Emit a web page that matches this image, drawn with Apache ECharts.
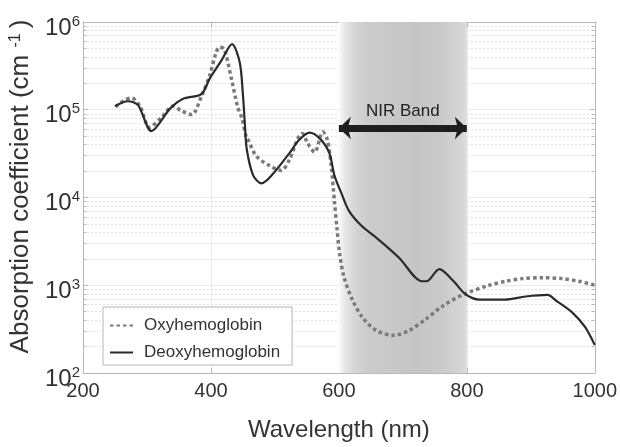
<!DOCTYPE html>
<html>
<head>
<meta charset="utf-8">
<script src="https://cdn.jsdelivr.net/npm/echarts@6/dist/echarts.min.js"></script>
<style>
  html, body { margin: 0; padding: 0; background: #fff; }
  #chart { width: 620px; height: 447px; }
</style>
</head>
<body>
<div id="chart"></div>
<script>
// 吸收系数数据 (cm^-1)
const oxyWavelength = [251, 265, 276, 289, 304, 323, 341, 354, 370, 385, 398, 408, 414, 421, 432, 442, 448, 455, 458, 471, 492, 510, 523, 536, 543, 551, 562, 575, 582, 588, 593, 597, 601, 608, 621, 637, 658, 686, 710, 736, 762, 793, 835, 861, 887, 918, 949, 975, 1000]
const oxyValues = [108000, 129000, 136000, 110000, 63000, 82000, 110000, 97000, 88000, 142000, 245000, 447000, 520000, 486000, 226000, 106000, 82000, 49300, 45400, 29600, 23000, 20300, 27300, 47200, 53700, 41600, 32900, 56000, 45400, 23000, 9060, 4470, 2340, 1240, 686, 429, 306, 269, 306, 412, 578, 776, 1000, 1110, 1190, 1220, 1190, 1110, 1000]

const deoxyWavelength = [250, 270, 286, 307, 336, 356, 385, 398, 416, 433, 445, 450, 453, 456, 466, 479, 497, 523, 538, 554, 570, 585, 593, 605, 616, 635, 663, 694, 730, 737, 757, 778, 796, 809, 820, 860, 892, 926, 941, 965, 985, 1000]
const deoxyValues = [110000, 125000, 113000, 57000, 103000, 133000, 151000, 226000, 360000, 560000, 347000, 148000, 70000, 35500, 17900, 14500, 18600, 32300, 45400, 55000, 47200, 32300, 17900, 10700, 7000, 4800, 3270, 2060, 1110, 1110, 1530, 1140, 810, 713, 686, 686, 745, 776, 656, 488, 333, 209]

const xMin = 200, xMax = 1000, xStep = 200
const yDecades = [100, 1000, 10000, 100000, 1000000]
const nirBand = [600, 800]
const nirLevel = 62000

const font = 'Liberation Sans, Arial, Helvetica, sans-serif'
const textColor = '#333'
const boxColor = '#b8b8b8'

// 次网格线 2..9 × 10^n
const minorValues = []
yDecades.slice(0, -1).forEach(d => {
  for (let k = 2; k <= 9; k++) minorValues.push(d * k)
})
const minorTickNm = 5

function zip(xs, ys) {
  return xs.map((x, i) => [x, ys[i]])
}

let myChart = echarts.init(document.getElementById('chart'))

const axisLine = { show: true, lineStyle: { color: boxColor, width: 1 } }
const axisTick = { show: true, inside: true, length: 5, lineStyle: { color: boxColor } }

var option = {
  animation: false,
  textStyle: { fontFamily: font },
  grid: { left: 83, right: 24, top: 22, bottom: 63 },
  legend: {
    data: ['Oxyhemoglobin', 'Deoxyhemoglobin'],
    orient: 'vertical',
    left: 103,
    top: 307,
    itemWidth: 23,
    itemHeight: 14,
    itemGap: 10,
    padding: [10, 12, 4, 6],
    backgroundColor: '#fff',
    borderColor: '#b5b5b5',
    borderWidth: 1,
    itemStyle: { opacity: 0 },
    textStyle: { fontSize: 17, color: textColor, fontFamily: font, padding: [0, 0, 0, 6] }
  },
  xAxis: [
    {
      type: 'value', min: xMin, max: xMax, interval: xStep,
      name: 'Wavelength (nm)', nameLocation: 'middle', nameGap: 45,
      nameTextStyle: { fontSize: 24, color: textColor, fontFamily: font },
      axisLine: axisLine, axisTick: axisTick,
      axisLabel: { fontSize: 20, color: textColor, margin: 8, fontFamily: font, formatter: v => String(v) },
      splitLine: { show: true, lineStyle: { color: '#ebebeb', width: 1 } }
    },
    {
      type: 'value', min: xMin, max: xMax, interval: xStep, position: 'top',
      axisLine: axisLine, axisTick: axisTick,
      axisLabel: { show: false }, splitLine: { show: false }
    }
  ],
  yAxis: [
    {
      type: 'log', logBase: 10, min: 100, max: 1000000,
      name: 'Absorption coefficient (cm {s|-1})', nameLocation: 'middle', nameGap: 30,
      nameTextStyle: {
        fontSize: 26, color: textColor, fontFamily: font, padding: [0, 0, 0, 22],
        rich: { s: { fontSize: 16, color: textColor, fontFamily: font, verticalAlign: 'top', padding: [0, 5, 0, 0] } }
      },
      axisLine: axisLine, axisTick: axisTick,
      axisLabel: {
        margin: 3,
        formatter: v => '{b|10}{s|' + Math.round(Math.log10(v)) + '}',
        rich: {
          b: { fontSize: 24, color: textColor, fontFamily: font, padding: [12, 0, 0, 0] },
          s: { fontSize: 15, color: textColor, fontFamily: font, verticalAlign: 'top', padding: [10, 0, 0, 0] }
        }
      },
      splitLine: { show: true, lineStyle: { color: '#ebebeb', width: 1 } }
    },
    {
      type: 'log', logBase: 10, min: 100, max: 1000000, position: 'right',
      axisLine: axisLine, axisTick: axisTick,
      axisLabel: { show: false }, splitLine: { show: false }
    }
  ],
  series: [
    {
      name: 'grid-minor',
      type: 'line',
      data: [],
      silent: true,
      z: 0,
      markLine: {
        silent: true,
        z: 0,
        symbol: ['none', 'none'],
        label: { show: false },
        animation: false,
        data: [].concat(
          minorValues.map(v => ({ yAxis: v, lineStyle: { color: '#e0e0e0', type: [2, 2], width: 1 } })),
          minorValues.map(v => [
            { coord: [xMin, v], lineStyle: { color: boxColor, type: 'solid', width: 1 } },
            { coord: [xMin + minorTickNm, v] }
          ]),
          minorValues.map(v => [
            { coord: [xMax - minorTickNm, v], lineStyle: { color: boxColor, type: 'solid', width: 1 } },
            { coord: [xMax, v] }
          ])
        )
      }
    },
    {
      name: 'Oxyhemoglobin',
      type: 'line',
      smooth: 0.3,
      symbol: 'none',
      z: 3,
      data: zip(oxyWavelength, oxyValues),
      lineStyle: { color: '#7a7a7a', width: 3.5, type: [3.5, 3], cap: 'butt' },
      itemStyle: { color: '#7a7a7a' },
      markArea: {
        silent: true,
        z: 1,
        itemStyle: {
          color: {
            type: 'linear', x: 0, y: 0, x2: 1, y2: 0,
            colorStops: [
              { offset: 0, color: '#fbfbfb' },
              { offset: 0.05, color: '#e6e6e6' },
              { offset: 0.12, color: '#d6d6d6' },
              { offset: 0.22, color: '#cccccc' },
              { offset: 0.6, color: '#c5c5c5' },
              { offset: 0.8, color: '#cacaca' },
              { offset: 0.95, color: '#d5d5d5' },
              { offset: 1, color: '#dcdcdc' }
            ]
          }
        },
        data: [[{ xAxis: nirBand[0] }, { xAxis: nirBand[1] }]]
      }
    },
    {
      name: 'Deoxyhemoglobin',
      type: 'line',
      smooth: 0.3,
      symbol: 'none',
      z: 4,
      data: zip(deoxyWavelength, deoxyValues),
      lineStyle: { color: '#2b2b2b', width: 2.2 },
      itemStyle: { color: '#2b2b2b' }
    },
    {
      name: 'nir',
      type: 'line',
      data: [],
      silent: true,
      markLine: {
        silent: true,
        z: 6,
        symbol: ['arrow', 'arrow'],
        symbolSize: [17, 12],
        lineStyle: { color: '#1e1e1e', width: 7, type: 'solid' },
        label: {
          show: true, position: 'middle', distance: 8,
          formatter: 'NIR Band', fontSize: 17, color: '#222', fontFamily: font
        },
        data: [[{ coord: [nirBand[0], nirLevel] }, { coord: [nirBand[1], nirLevel] }]]
      }
    }
  ]
}

myChart.setOption(option)
window.addEventListener('resize', () => {
  myChart.resize()
})
</script>
</body>
</html>
